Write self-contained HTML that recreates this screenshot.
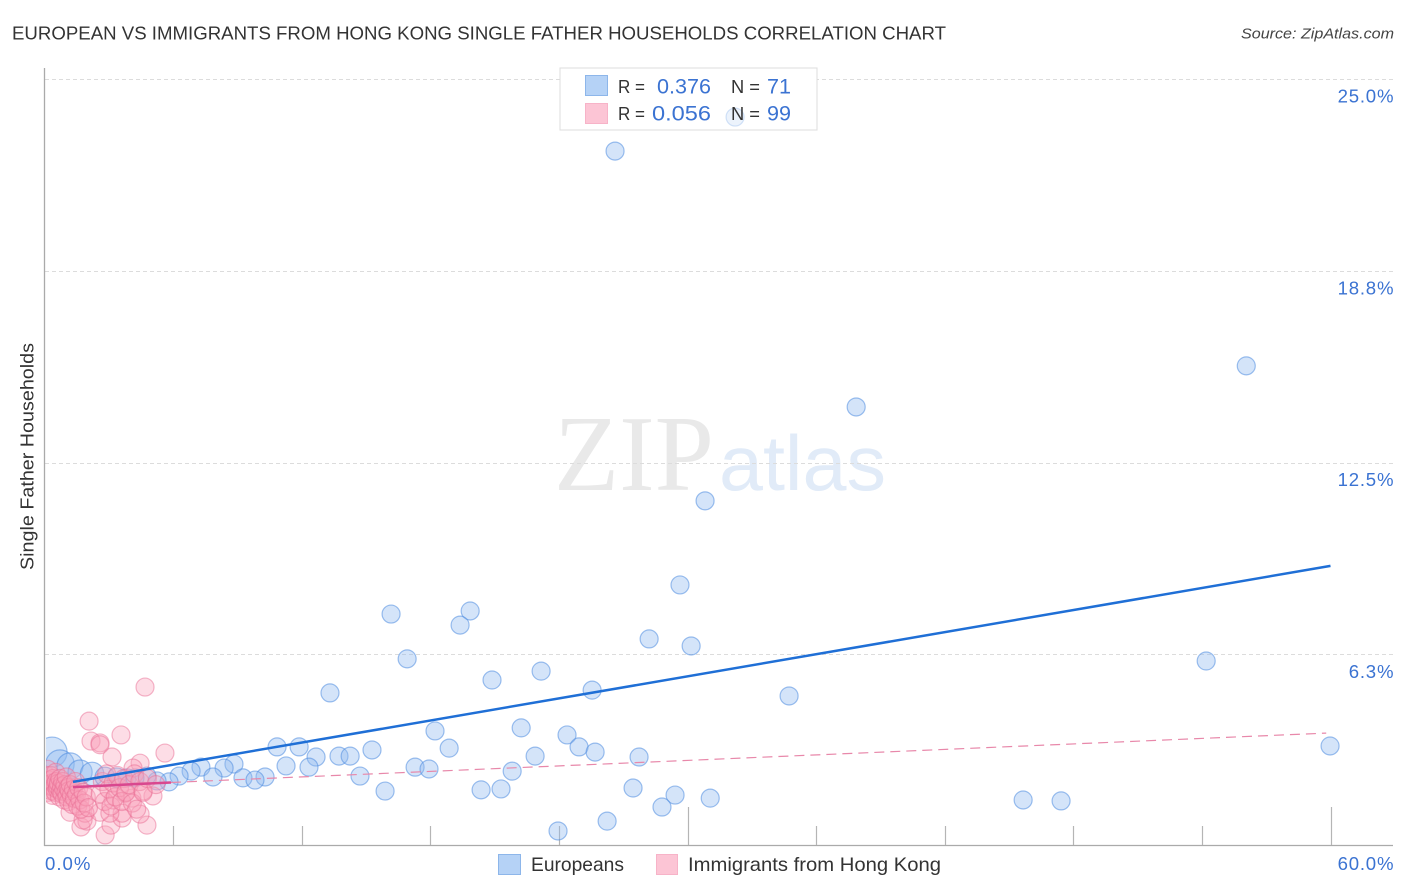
<!DOCTYPE html>
<html lang="en">
<head>
<meta charset="utf-8">
<title>European vs Immigrants from Hong Kong Single Father Households Correlation Chart</title>
<style>
html,body{margin:0;padding:0;background:#fff;width:1406px;height:892px;overflow:hidden}
svg{display:block;font-family:"Liberation Sans",sans-serif}
</style>
</head>
<body>
<svg id="chart" width="1406" height="892" viewBox="0 0 1406 892" xmlns="http://www.w3.org/2000/svg">
  <rect width="1406" height="892" fill="#fff"/>
  <text x="12" y="39.5" font-size="18.6" fill="#333" textLength="934" lengthAdjust="spacingAndGlyphs">EUROPEAN VS IMMIGRANTS FROM HONG KONG SINGLE FATHER HOUSEHOLDS CORRELATION CHART</text>
  <text x="1241" y="38.5" font-size="15" font-style="italic" fill="#444" textLength="153" lengthAdjust="spacingAndGlyphs">Source: ZipAtlas.com</text>
  <g>
    <text x="554" y="490" font-family="'Liberation Serif',serif" font-size="108" fill="#e9e9e9" textLength="160" lengthAdjust="spacingAndGlyphs">ZIP</text>
    <text x="719" y="490" font-size="78" fill="#e1ebf8" textLength="167" lengthAdjust="spacingAndGlyphs">atlas</text>
  </g>
  <g id="grid"></g>
  <rect x="560" y="68" width="257" height="62" fill="#fff"/>
  <g id="axes"></g>
  <defs><clipPath id="plot-clip"><rect x="46" y="68" width="1347" height="777"/></clipPath></defs>
  <g id="points" clip-path="url(#plot-clip)"></g>
  <g id="trends"></g>
  <text transform="translate(33.5,570) rotate(-90)" x="0" y="0" font-size="18.6" fill="#333" textLength="227" lengthAdjust="spacingAndGlyphs">Single Father Households</text>

  <g>
    <rect x="560" y="68" width="257" height="62" fill="#fff" fill-opacity="0.55" stroke="#ddd" stroke-width="1"/>
    <rect x="585.5" y="75.5" width="22" height="20" fill="#b5d2f6" stroke="#8db6ea"/>
    <rect x="585.5" y="103.5" width="22" height="20" fill="#fcc5d5" stroke="#f7b3c8"/>
    <text x="618" y="93" font-size="18" fill="#333" textLength="27" lengthAdjust="spacingAndGlyphs">R =</text>
    <text x="657" y="93.5" font-size="21" fill="#3b73d2" textLength="54" lengthAdjust="spacingAndGlyphs">0.376</text>
    <text x="731" y="93" font-size="18" fill="#333" textLength="29" lengthAdjust="spacingAndGlyphs">N =</text>
    <text x="767" y="93.5" font-size="21" fill="#3b73d2" textLength="24" lengthAdjust="spacingAndGlyphs">71</text>
    <text x="618" y="120" font-size="18" fill="#333" textLength="27" lengthAdjust="spacingAndGlyphs">R =</text>
    <text x="652" y="120.5" font-size="21" fill="#3b73d2" textLength="59" lengthAdjust="spacingAndGlyphs">0.056</text>
    <text x="731" y="120" font-size="18" fill="#333" textLength="29" lengthAdjust="spacingAndGlyphs">N =</text>
    <text x="767" y="120.5" font-size="21" fill="#3b73d2" textLength="24" lengthAdjust="spacingAndGlyphs">99</text>
  </g>

  <g>
    <g>
      <rect x="498.5" y="854.5" width="22" height="20" fill="#b5d2f6" stroke="#8db6ea"/>
      <text x="531" y="871" font-size="19.5" fill="#333" textLength="93" lengthAdjust="spacingAndGlyphs">Europeans</text>
    </g>
    <g>
      <rect x="656.5" y="854.5" width="21" height="20" fill="#fcc5d5" stroke="#f7b3c8"/>
      <text x="688" y="871" font-size="19.5" fill="#333" textLength="253" lengthAdjust="spacingAndGlyphs">Immigrants from Hong Kong</text>
    </g>
  </g>
</svg>
<script>
// [x %, y %, weight]
const europeans = [
  [26.62,22.65],[32.22,23.76],[56.07,15.65],[37.87,14.31],[30.82,11.25],[29.65,8.51],[19.86,7.66],[16.17,7.56],
  [19.39,7.20],[28.21,6.75],[30.17,6.52],[16.92,6.10],[54.20,6.03],[23.17,5.70],[20.88,5.41],[25.55,5.08],
  [13.32,4.99],[34.74,4.89],[22.24,3.85],[18.22,3.75],[24.38,3.62],[10.85,3.23],[11.88,3.23],[24.94,3.23],
  [18.88,3.19],[15.28,3.13],[25.69,3.06],[59.98,3.26],[22.89,2.93],[27.74,2.90],[13.74,2.93],[14.26,2.93],
  [12.67,2.90],[11.27,2.61],[12.34,2.57],[8.84,2.67],[17.29,2.57],[17.94,2.51],[7.30,2.57],[8.38,2.54],
  [21.82,2.44],[14.72,2.28],[6.84,2.44],[6.28,2.28],[9.26,2.22],[7.86,2.25],[10.29,2.25],[9.82,2.15],
  [5.81,2.09],[5.25,2.12],[4.78,2.28],[15.89,1.79],[20.37,1.83],[21.30,1.86],[27.46,1.89],[29.42,1.66],
  [31.06,1.56],[28.81,1.27],[45.66,1.50],[47.43,1.47],[26.25,0.81],[23.96,0.49],
  [0.35,3.06,2.8],[0.72,2.67,2.5],[1.19,2.61,2.1],[1.66,2.41,1.8],[2.22,2.35,1.7],[2.82,2.25,1.2],[3.38,2.22,1.2],[3.85,2.22,1],[4.22,2.22,1]
];
const hongKong = [
  [4.69,5.18],[2.08,4.07],[3.57,3.62],[2.17,3.42],[2.59,3.36],[2.59,3.30],[5.62,3.03],[3.15,2.90],[4.46,2.70],[4.13,2.54],
  [2.83,0.36],[1.70,0.62],[1.98,0.81],[3.10,0.68],[3.62,0.91],[3.62,1.07],[4.78,0.68],[4.46,1.04],
  [5.06,1.63],[4.08,1.56],[4.60,1.79],[1.19,1.10],[2.59,1.10],[3.05,1.07],[3.20,1.50],[3.76,1.72],[1.89,1.07],[1.80,0.85],
  [0.08,2.3],[0.1,2.0],[0.12,1.85],[0.15,2.5],[0.18,1.75],[0.2,2.15],[0.25,1.95],[0.28,2.3],[0.3,1.8],[0.35,2.05],
  [0.38,1.65],[0.4,2.2],[0.45,1.9],[0.48,2.0],[0.5,1.75],[0.52,2.4],[0.55,2.1],[0.6,1.85],[0.62,1.95],[0.65,2.05],
  [0.7,1.6],[0.72,2.2],[0.75,1.8],[0.8,1.95],[0.82,1.7],[0.85,2.1],[0.9,1.85],[0.92,1.5],[0.95,2.0],[1.0,1.75],
  [1.02,2.25],[1.05,1.6],[1.1,1.9],[1.12,1.45],[1.15,1.8],[1.2,2.0],[1.25,1.65],[1.3,1.35],[1.35,1.85],[1.4,1.55],
  [1.45,2.1],[1.5,1.7],[1.55,1.3],[1.6,1.9],[1.65,1.5],[1.7,1.2],[1.8,1.75],[1.85,1.4],[1.95,1.6],[2.05,1.25],
  [2.6,1.7],[2.7,2.1],[2.8,1.45],[2.9,2.35],[3.0,1.85],[3.1,1.3],[3.2,2.05],[3.3,1.6],[3.4,2.3],[3.5,1.9],
  [3.6,1.45],[3.7,2.2],[3.8,1.75],[3.95,2.0],[4.1,1.4],[4.2,2.35],[4.3,1.2],[4.45,2.1],[4.6,1.75],[4.8,2.2],[5.2,2.0]
];
const europeansTrendX = [1.33, 60];
const europeansTrendY = [2.09, 9.13];
const hongKongTrendX = [1.33, 5.9, 59.8];
const hongKongTrendY = [1.92, 2.07, 3.68];
const yTicks = [25, 18.75, 12.5, 6.25];
const yTickLabels = ['25.0%', '18.8%', '12.5%', '6.3%'];
const xTicks = [6, 12, 18, 24, 30, 36, 42, 48, 54, 60];
const xMajorTicks = [30, 60];
const xEndLabels = ['0.0%', '60.0%'];

const NS = 'http://www.w3.org/2000/svg';
const xScale = function (v) { return 44.5 + v * (1286 / 60); };
const yScale = function (v) { return 846 - v * (767 / 25); };

function svgEl(tag, parent, attrs) {
  const el = document.createElementNS(NS, tag);
  for (const k in attrs) el.setAttribute(k, attrs[k]);
  parent.appendChild(el);
  return el;
}

const gridG = document.getElementById('grid');
const axesG = document.getElementById('axes');
const pointsG = document.getElementById('points');
const trendsG = document.getElementById('trends');

yTicks.forEach(function (t, i) {
  const y = Math.round(yScale(t)) + 0.5;
  const line = svgEl('line', gridG, { x1: 45, x2: 1393, y1: y, y2: y, stroke: '#dcdcdc', 'stroke-width': 1, 'stroke-dasharray': '4 3' });
  
  
  const label = svgEl('text', axesG, { x: 1394.3, y: yScale(t) + 23.5, 'font-size': 18.6, 'letter-spacing': 0.8, fill: '#3b73d2', 'text-anchor': 'end' });
  label.textContent = yTickLabels[i];
  
  
});

const yAxis = svgEl('line', axesG, { x1: 44.5, x2: 44.5, y1: 68, y2: 846, stroke: '#aaa', 'stroke-width': 1.3 });


const xAxis = svgEl('line', axesG, { x1: 44, x2: 1393, y1: 845.5, y2: 845.5, stroke: '#aaa', 'stroke-width': 1.3 });



xTicks.forEach(function (t) {
  const x = Math.round(xScale(t)) + 0.5;
  const tall = xMajorTicks.indexOf(t) !== -1;
  const tick = svgEl('line', axesG, { x1: x, x2: x, y1: tall ? 807 : 826, y2: 845, stroke: '#b5b5b5', 'stroke-width': 1.2 });
  
  
});

const x0Label = svgEl('text', axesG, { x: 45, y: 870, 'font-size': 18.6, 'letter-spacing': 1, fill: '#3b73d2' });
x0Label.textContent = xEndLabels[0];


const x1Label = svgEl('text', axesG, { x: 1394.3, y: 870, 'font-size': 18.6, 'letter-spacing': 0.8, fill: '#3b73d2', 'text-anchor': 'end' });
x1Label.textContent = xEndLabels[1];



const baseRadius = 9;
europeans.forEach(function (p) {
  const c = svgEl('circle', pointsG, {
    cx: xScale(p[0]), cy: yScale(p[1]), r: baseRadius * Math.sqrt(p[2] || 1),
    fill: '#8db8f0', 'fill-opacity': 0.38, stroke: '#4f8ce0', 'stroke-opacity': 0.55, 'stroke-width': 1.2
  });
  
  
});
hongKong.forEach(function (p) {
  const c = svgEl('circle', pointsG, {
    cx: xScale(p[0]), cy: yScale(p[1]), r: baseRadius,
    fill: '#f9a0b9', 'fill-opacity': 0.36, stroke: '#ea6f96', 'stroke-opacity': 0.5, 'stroke-width': 1.2
  });
  
  
});

const hkSolid = svgEl('line', trendsG, {
  x1: xScale(hongKongTrendX[0]), y1: yScale(hongKongTrendY[0]),
  x2: xScale(hongKongTrendX[1]), y2: yScale(hongKongTrendY[1]),
  stroke: '#d9478f', 'stroke-width': 2.5
});


const hkDashed = svgEl('line', trendsG, {
  x1: xScale(hongKongTrendX[1]), y1: yScale(hongKongTrendY[1]),
  x2: xScale(hongKongTrendX[2]), y2: yScale(hongKongTrendY[2]),
  stroke: '#e888aa', 'stroke-width': 1.2, 'stroke-dasharray': '10 6'
});


const euLine = svgEl('line', trendsG, {
  x1: xScale(europeansTrendX[0]), y1: yScale(europeansTrendY[0]),
  x2: xScale(europeansTrendX[1]), y2: yScale(europeansTrendY[1]),
  stroke: '#1f6fd6', 'stroke-width': 2.5
});


</script>
</body>
</html>
